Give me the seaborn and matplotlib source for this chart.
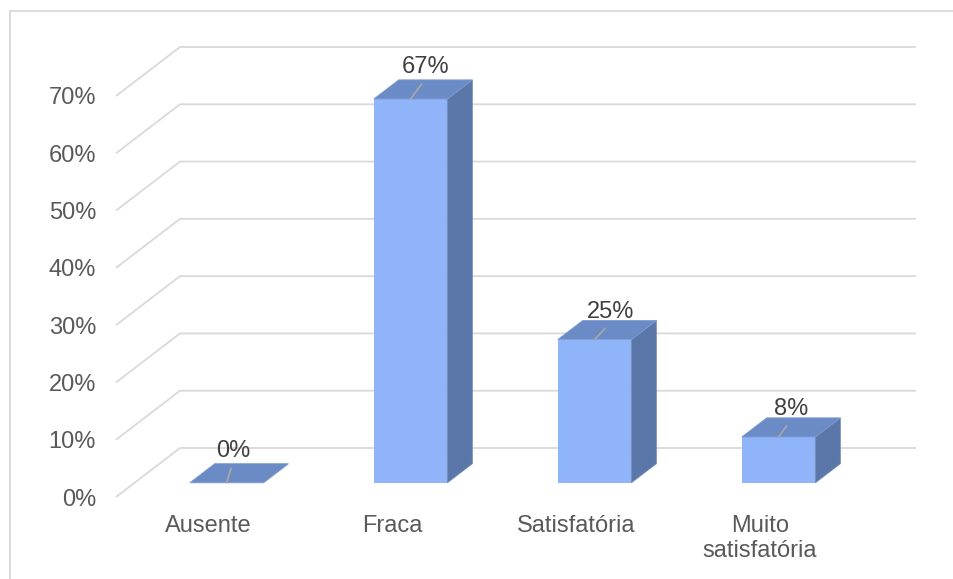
import numpy as np
import pandas as pd
import matplotlib
matplotlib.use("Agg")
import matplotlib.pyplot as plt
from matplotlib.transforms import Affine2D
from matplotlib.patches import Polygon, Rectangle
import seaborn as sns

# ---- data ----
categories = ["Ausente", "Fraca", "Satisfatória", "Muito\nsatisfatória"]
values = [0, 67, 25, 8]
value_labels = ["0%", "67%", "25%", "8%"]
y_ticks = [0, 10, 20, 30, 40, 50, 60, 70]
y_tick_labels = ["0%", "10%", "20%", "30%", "40%", "50%", "60%", "70%"]

# ---- style ----
FRONT = "#8FB4F9"
TOP = "#6A8BC6"
SIDE = "#5B76A8"
GRID = "#D9D9D9"
AXTXT = "#595959"
LBLTXT = "#404040"
FONT = "Liberation Sans"
FS = 17

sns.set_theme(style="white")
plt.rcParams["font.family"] = [FONT, "DejaVu Sans"]

W, H = 954, 579
fig = plt.figure(figsize=(W / 100, H / 100), dpi=100)
fig.patch.set_facecolor("white")

# axes: front plane 116..852 px, back wall extends to 916 px
ax = fig.add_axes([116 / W, 82 / H, 800 / W, 450 / H])
ax.patch.set_alpha(0)

DX = 64 / 184.0          # full depth, x (category units)
DY = 49 / 5.729          # full depth, y (percent units)
F1, F2 = 0.29, 0.68      # bar depth fractions

df = pd.DataFrame({"cat": categories, "val": values})
sns.barplot(data=df, x="cat", y="val", width=0.4, color=FRONT, saturation=1,
            ax=ax, zorder=3, linewidth=0)

shift = Affine2D().translate(F1 * DX, F1 * DY) + ax.transData
for p in ax.patches:
    p.set_transform(shift)
    x0, w, h = p.get_x(), p.get_width(), p.get_height()
    top = [(x0 + F1 * DX, h + F1 * DY), (x0 + w + F1 * DX, h + F1 * DY),
           (x0 + w + F2 * DX, h + F2 * DY), (x0 + F2 * DX, h + F2 * DY)]
    side = [(x0 + w + F1 * DX, F1 * DY), (x0 + w + F2 * DX, F2 * DY),
            (x0 + w + F2 * DX, h + F2 * DY), (x0 + w + F1 * DX, h + F1 * DY)]
    ax.add_patch(Polygon(side, closed=True, facecolor=SIDE, edgecolor="#6F89B8",
                         lw=0.6, zorder=3, clip_on=False))
    ax.add_patch(Polygon(top, closed=True, facecolor=TOP, edgecolor="#7E9BD0",
                         lw=0.6, zorder=3, clip_on=False))

# gridlines: floor diagonal + back wall
for t in y_ticks:
    ax.plot([-0.5, -0.5 + DX, 3.5 + DX], [t, t + DY, t + DY], color=GRID,
            lw=1.3, zorder=1, clip_on=False, solid_capstyle="butt")

# value labels with leader lines
LBL_DX = [6.5, 15.5, 16, 12.5]
LBL_DY = [26, 26, 22, 22]
for i, (v, lab) in enumerate(zip(values, value_labels)):
    ax.annotate(lab, xy=(i + F1 * DX, v + F1 * DY), xycoords="data",
                xytext=(LBL_DX[i], LBL_DY[i]), textcoords="offset pixels",
                ha="center", va="baseline", fontsize=FS, color=LBLTXT,
                zorder=5,
                arrowprops=dict(arrowstyle="-", color="#A6A6A6", lw=1.3,
                                relpos=(0.5, 0), shrinkA=2.5, shrinkB=0))

ax.set_xlim(-0.5, 3.5 + DX)
ax.set_ylim(0, 70 + DY)
ax.set_yticks(y_ticks)
ax.set_yticklabels(y_tick_labels)
ax.set_xticks(range(len(categories)))
ax.set_xticklabels(categories, linespacing=1.18)
ax.tick_params(axis="y", length=0, pad=14.4, labelsize=FS, labelcolor=AXTXT)
ax.tick_params(axis="x", length=0, pad=13, labelsize=FS, labelcolor=AXTXT)
for lbl in ax.get_xticklabels() + ax.get_yticklabels():
    lbl.set_fontfamily([FONT, "DejaVu Sans"])
ax.set_xlabel("")
ax.set_ylabel("")
for s in ax.spines.values():
    s.set_visible(False)
ax.grid(False)

# chart area border
fig.patches.append(Rectangle((10 / W, -0.1), 1.2, 0.1 + (H - 11) / H,
                             transform=fig.transFigure, fill=False,
                             edgecolor=GRID, lw=1.3))

fig.savefig("out.png", dpi=100)
